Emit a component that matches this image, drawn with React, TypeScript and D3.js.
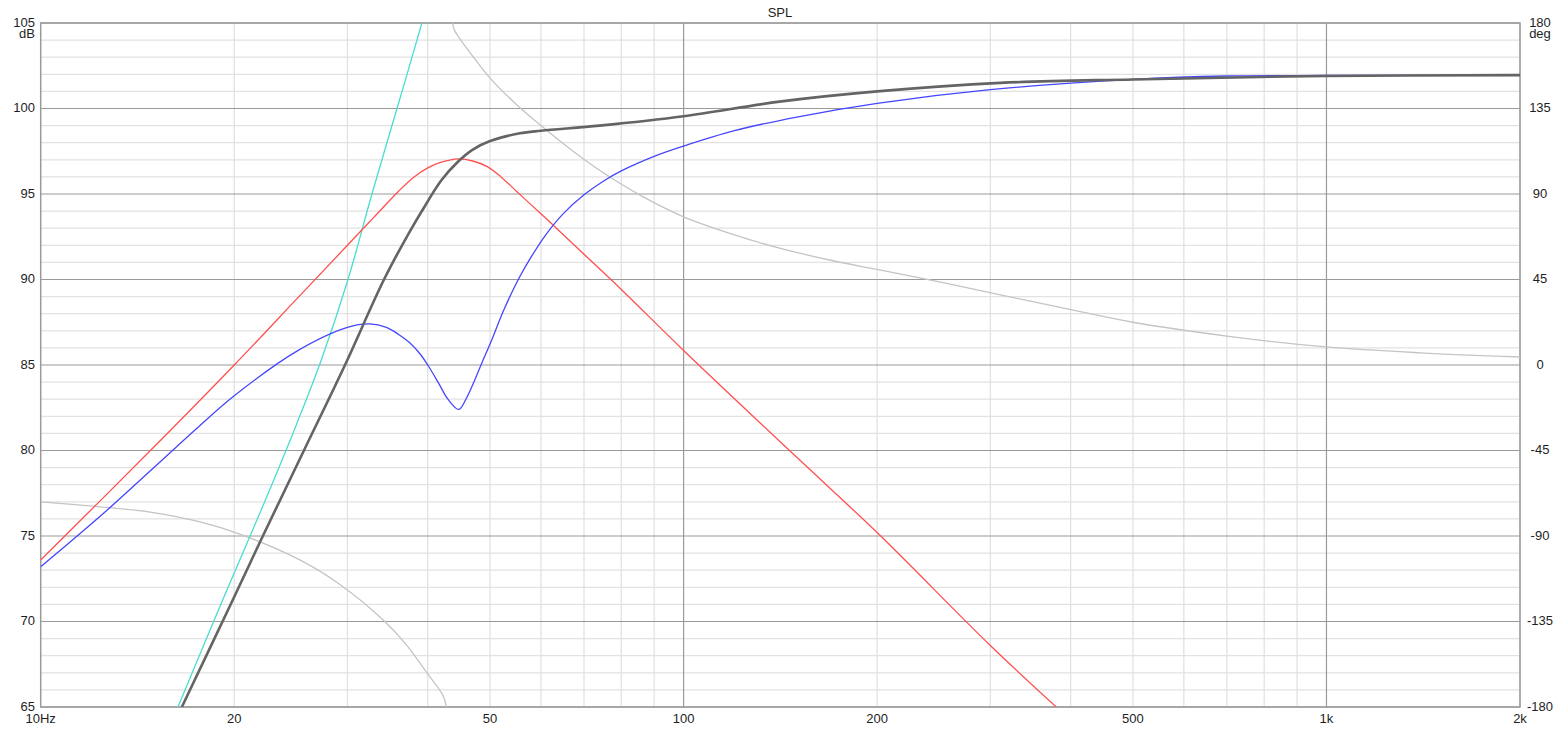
import React from "react";
import * as d3 from "d3";

const W = 1559;
const H = 729;

// Frequency grid / ticks
const xTickValues = [10, 20, 50, 100, 200, 500, 1000, 2000];
const xTickLabels = ["10Hz", "20", "50", "100", "200", "500", "1k", "2k"];
const dbTicks = [105, 100, 95, 90, 85, 80, 75, 70, 65];
const degTicks = [180, 135, 90, 45, 0, -45, -90, -135, -180];

// Total SPL (dark grey)
const totalFreq = [16.58, 19.92, 22.16, 25.67, 29.74, 34.2, 37.5, 39.6, 42, 44.6, 47, 50, 55.6, 60, 74, 100, 141, 200, 311, 500, 1000, 2000];
const totalDb = [65, 71.3, 75, 80, 85, 90, 92.8, 94.3, 95.8, 96.9, 97.6, 98.1, 98.55, 98.7, 99.0, 99.55, 100.4, 101.0, 101.5, 101.7, 101.9, 101.95];

// Port / bandpass output (red)
const portFreq = [10, 15, 20, 25, 30, 33, 36, 38, 40, 42, 44.6, 47, 49.5, 52, 55, 58, 62, 70, 80, 100, 150, 200, 300, 380];
const portDb = [73.6, 80.2, 85.0, 88.85, 92.0, 93.65, 95.15, 95.97, 96.53, 96.86, 97.05, 96.93, 96.6, 96.0, 95.15, 94.35, 93.35, 91.48, 89.42, 85.85, 79.6, 75.2, 68.6, 65];

// Driver output (blue)
const coneFreq = [10, 12.5, 15, 17.5, 20, 25, 30, 32.5, 34.5, 36, 37.5, 39, 40, 41.5, 43, 44.7, 46, 47.3, 48.4, 50.3, 52.5, 55.5, 58, 61, 65, 70, 75, 80, 90, 100, 120, 150, 200, 300, 500, 700, 1000, 2000];
const coneDb = [73.2, 76.3, 79.0, 81.3, 83.2, 85.8, 87.2, 87.4, 87.2, 86.8, 86.3, 85.6, 85.0, 84.0, 83.0, 82.4, 83.1, 84.1, 85.0, 86.46, 88.2, 90.1, 91.35, 92.6, 93.85, 94.95, 95.75, 96.35, 97.2, 97.8, 98.7, 99.5, 100.3, 101.1, 101.7, 101.9, 101.93, 101.95];

// Cyan curve
const cyanFreq = [16.35, 19.21, 21.17, 23, 25.04, 27.38, 30.06, 32.75, 35.83, 39.17, 40.5];
const cyanDb = [65, 71.3, 75, 78.2, 81.6, 85.4, 90, 95, 100, 105, 107];

// Phase (light grey, right axis) – two branches around the wrap
const phaseLowFreq = [10, 12.37, 14.8, 17.7, 20.4, 25.3, 29.2, 34.1, 37, 39.9, 42.2, 42.8];
const phaseLowDeg = [-72, -74.7, -77.4, -82.6, -89.0, -102.6, -115.5, -134.2, -147, -162.1, -173.7, -180];
const phaseHighFreq = [43.75, 44.0, 47, 50, 55, 60, 67, 74, 86, 100, 120, 141, 170, 200, 250, 311, 400, 500, 700, 1000, 1400, 2000];
const phaseHighDeg = [180, 176.3, 162.5, 151, 137, 126, 113, 102.5, 89, 78, 68.5, 61.5, 55, 50.3, 43.8, 36.9, 29.2, 22.5, 15.2, 9.5, 6.4, 4.2];

const L = 40.7, R = 1520, T = 23, B = 707;

export default function App() {
  const x = d3.scaleLog().domain([10, 2000]).range([L, R]);
  const yDb = d3.scaleLinear().domain([65, 105]).range([B, T]);
  const yDeg = d3.scaleLinear().domain([-180, 180]).range([B, T]);

  const mk = (fs: number[], vs: number[], ys: any) =>
    d3.line<number>()
      .x((_, i) => x(fs[i]))
      .y((v) => ys(v))
      .curve(d3.curveCatmullRom.alpha(0.5))(vs) || "";

  const vLines: number[] = [];
  for (let dec = 10; dec <= 1000; dec *= 10) {
    for (let k = 1; k <= 9; k++) {
      const f = dec * k;
      if (f <= 2000) vLines.push(f);
    }
  }
  vLines.push(2000);
  const hMinor: number[] = d3.range(65, 106, 1);

  const font = "'Liberation Sans', Arial, sans-serif";
  const fs = 13;
  const col = "#1e1e1e";

  return (
    <svg width={W} height={H} style={{ position: "absolute", left: 0, top: 0, background: "#fff" }}>
      <defs>
        <clipPath id="plot">
          <rect x={L} y={T} width={R - L} height={B - T} />
        </clipPath>
      </defs>
      {/* minor horizontal */}
      {hMinor.filter((d) => d % 5 !== 0).map((d) => (
        <line key={"h" + d} x1={L} x2={R} y1={yDb(d)} y2={yDb(d)} stroke="#e2e2e2" strokeWidth={1.2} />
      ))}
      {/* minor verticals */}
      {vLines.filter((f) => ![10, 100, 1000].includes(f)).map((f) => (
        <line key={"v" + f} x1={x(f)} x2={x(f)} y1={T} y2={B} stroke="#e0e0e0" strokeWidth={1.2} />
      ))}
      {/* major horizontal */}
      {dbTicks.map((d) => (
        <line key={"H" + d} x1={L} x2={R} y1={yDb(d)} y2={yDb(d)} stroke="#9a9a9a" strokeWidth={1.2} />
      ))}
      {[100, 1000].map((f) => (
        <line key={"V" + f} x1={x(f)} x2={x(f)} y1={T} y2={B} stroke="#9a9a9a" strokeWidth={1.2} />
      ))}
      {/* frame */}
      <rect x={L} y={T} width={R - L} height={B - T} fill="none" stroke="#9a9a9a" strokeWidth={1.5} />

      <g clipPath="url(#plot)" fill="none">
        <path d={mk(phaseLowFreq, phaseLowDeg, yDeg)} stroke="#c4c4c4" strokeWidth={1.3} />
        <path d={mk(phaseHighFreq, phaseHighDeg, yDeg)} stroke="#c4c4c4" strokeWidth={1.3} />
        <path d={mk(cyanFreq, cyanDb, yDb)} stroke="#48ddd0" strokeWidth={1.3} />
        <path d={mk(portFreq, portDb, yDb)} stroke="#ff5050" strokeWidth={1.3} />
        <path d={mk(coneFreq, coneDb, yDb)} stroke="#4646ff" strokeWidth={1.3} />
        <path d={mk(totalFreq, totalDb, yDb)} stroke="#646464" strokeWidth={2.6} />
      </g>

      {/* title */}
      <text x={780} y={16.5} textAnchor="middle" fontFamily={font} fontSize={fs} fill={col}>SPL</text>

      {/* left axis */}
      {dbTicks.map((d) => (
        <text key={"ld" + d} x={35} y={yDb(d) + 3.5} textAnchor="end" fontFamily={font} fontSize={fs} fill={col}>{d}</text>
      ))}
      <text x={35} y={38} textAnchor="end" fontFamily={font} fontSize={fs} fill={col}>dB</text>

      {/* right axis */}
      {degTicks.map((d) => (
        <text key={"rd" + d} x={1540} y={yDeg(d) + 3.5} textAnchor="middle" fontFamily={font} fontSize={fs} fill={col}>{d}</text>
      ))}
      <text x={1540} y={37.5} textAnchor="middle" fontFamily={font} fontSize={fs} fill={col}>deg</text>

      {/* bottom axis */}
      {xTickValues.map((f, i) => (
        <text key={"x" + f} x={x(f)} y={B + 16} textAnchor="middle" fontFamily={font} fontSize={fs} fill={col}>{xTickLabels[i]}</text>
      ))}
    </svg>
  );
}
